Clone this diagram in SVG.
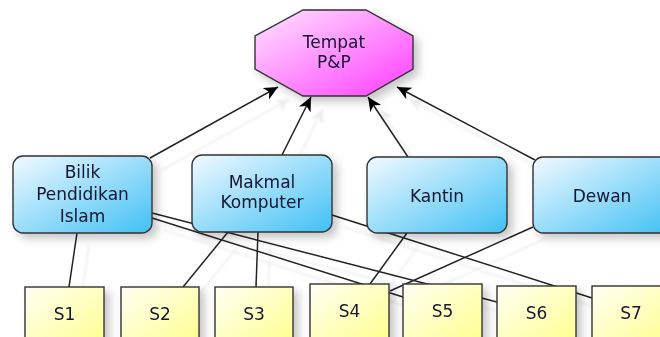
<svg xmlns="http://www.w3.org/2000/svg" width="660" height="337" viewBox="0 0 660 337">
<defs>
<linearGradient id="gBlue" x1="0" y1="0" x2="1" y2="1">
<stop offset="0" stop-color="#f2faff"/>
<stop offset="1" stop-color="#40c0f4"/>
</linearGradient>
<linearGradient id="gYel" x1="0" y1="0" x2="1" y2="1">
<stop offset="0" stop-color="#fffff4"/>
<stop offset="1" stop-color="#ffff8c"/>
</linearGradient>
<linearGradient id="gPink" x1="0" y1="0" x2="1" y2="1">
<stop offset="0" stop-color="#ffe6ff"/>
<stop offset="1" stop-color="#ff3cff"/>
</linearGradient>
<filter id="sh" x="-20%" y="-20%" width="150%" height="150%">
<feDropShadow dx="5" dy="5" stdDeviation="4" flood-color="#000" flood-opacity="0.22"/>
</filter>
<filter id="lsh" x="-10%" y="-10%" width="130%" height="130%">
<feDropShadow dx="12" dy="12" stdDeviation="1" flood-color="#000" flood-opacity="0.07"/>
</filter>
<marker id="arr" markerUnits="userSpaceOnUse" markerWidth="16" markerHeight="14" refX="14" refY="6.5" orient="auto">
<path d="M0,0 L14,6.5 L0,13 L4,6.5 z" fill="#000"/>
</marker>
</defs>
<style>
.c line{stroke:#222;stroke-width:1.5;fill:none}
.blue{fill:url(#gBlue);stroke:#333;stroke-width:1.4}
.yel{fill:url(#gYel);stroke:#333;stroke-width:1.4}
.oct{fill:url(#gPink);stroke:#333;stroke-width:1.4}
text{font-family:"DejaVu Sans",Verdana,sans-serif;font-size:17px;fill:#141432;text-anchor:middle}
</style>
<rect width="660" height="337" fill="#fff"/>
<g id="connectors" class="c" filter="url(#lsh)">
<line x1="150" y1="158" x2="278" y2="87" marker-end="url(#arr)"/>
<line x1="282" y1="155" x2="311" y2="97" marker-end="url(#arr)"/>
<line x1="408" y1="157" x2="368" y2="97" marker-end="url(#arr)"/>
<line x1="535" y1="160" x2="397" y2="87" marker-end="url(#arr)"/>
<line x1="77" y1="233" x2="69" y2="287"/>
<line x1="228" y1="232" x2="183" y2="287"/>
<line x1="258" y1="232" x2="256" y2="287"/>
<line x1="407" y1="233" x2="370" y2="284"/>
<line x1="533" y1="227" x2="390" y2="291"/>
<line x1="152" y1="213" x2="497" y2="302"/>
<line x1="152" y1="218" x2="403" y2="297"/>
<line x1="332" y1="215" x2="592" y2="298"/>
</g>
<g id="tempat" filter="url(#sh)">
<polygon class="oct" points="303,10 366,10 413,36 413,69 366,96 303,96 255,69 255,36"/>
<text x="334" y="48">Tempat</text>
<text x="334" y="68">P&amp;P</text>
</g>
<g id="bilik" filter="url(#sh)">
<rect class="blue" x="13" y="156" width="139" height="77" rx="10"/>
<text x="82.5" y="178">Bilik</text>
<text x="82.5" y="200">Pendidikan</text>
<text x="82.5" y="222">Islam</text>
</g>
<g id="makmal" filter="url(#sh)">
<rect class="blue" x="192" y="155" width="140" height="77" rx="10"/>
<text x="262" y="188">Makmal</text>
<text x="262" y="208">Komputer</text>
</g>
<g id="kantin" filter="url(#sh)">
<rect class="blue" x="367" y="157" width="140" height="76" rx="10"/>
<text x="437" y="202">Kantin</text>
</g>
<g id="dewan" filter="url(#sh)">
<rect class="blue" x="533" y="157" width="140" height="76" rx="10"/>
<text x="602" y="202">Dewan</text>
</g>
<g id="s1" filter="url(#sh)">
<rect class="yel" x="25" y="287" width="79" height="60"/>
<text x="64.5" y="320">S1</text>
</g>
<g id="s2" filter="url(#sh)">
<rect class="yel" x="121" y="287" width="78" height="60"/>
<text x="160" y="320">S2</text>
</g>
<g id="s3" filter="url(#sh)">
<rect class="yel" x="215" y="287" width="78" height="60"/>
<text x="254" y="320">S3</text>
</g>
<g id="s4" filter="url(#sh)">
<rect class="yel" x="310" y="284" width="79" height="60"/>
<text x="349.5" y="317">S4</text>
</g>
<g id="s5" filter="url(#sh)">
<rect class="yel" x="403" y="284" width="79" height="60"/>
<text x="442.5" y="317">S5</text>
</g>
<g id="s6" filter="url(#sh)">
<rect class="yel" x="497" y="286" width="79" height="60"/>
<text x="536.5" y="319">S6</text>
</g>
<g id="s7" filter="url(#sh)">
<rect class="yel" x="592" y="286" width="79" height="60"/>
<text x="631" y="319">S7</text>
</g>
</svg>
